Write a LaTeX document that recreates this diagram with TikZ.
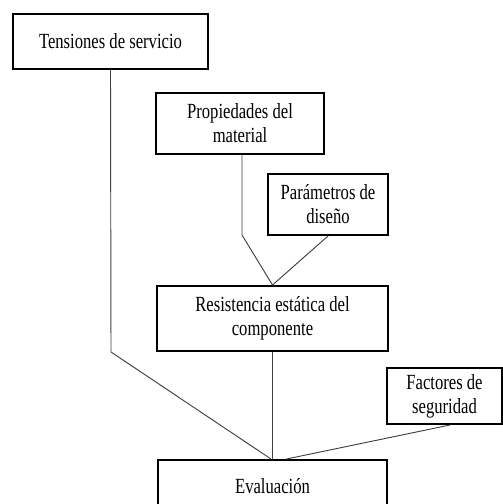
\documentclass[tikz,border=0pt]{standalone}
\usepackage{fontspec}
\setmainfont{Liberation Serif}[FakeStretch=0.77]
\usetikzlibrary{calc}
\tikzset{
  caja/.style={draw,line width=1.5pt,inner sep=0pt,align=center,
    font=\fontsize{16.2}{18}\selectfont},
  enlace/.style={draw=black!75,line width=0.7pt}
}
\begin{document}
\begin{tikzpicture}[x=0.75pt,y=-0.75pt]
    \clip (0,0) rectangle (503,504);
    \fill[white] (0,0) rectangle (503,504);
    % cajas
    \node[caja,minimum width=146.25pt,minimum height=41.25pt] (tens) at (110.5,41.5) {Tensiones de servicio};
    \node[caja,minimum width=126pt,minimum height=45.75pt] (prop) at (240,123.5) {Propiedades del\\material};
    \node[caja,minimum width=90pt,minimum height=45.75pt] (param) at (328,204.5) {Parámetros de\\diseño};
    \node[caja,minimum width=173.25pt,minimum height=48.75pt] (resis) at (272.5,318.5) {Resistencia estática del\\componente};
    \node[caja,minimum width=86.25pt,minimum height=42pt] (fact) at (444.5,396) {Factores de\\seguridad};
    \node[caja,minimum width=171.75pt,minimum height=39pt] (eval) at (272.5,486) {Evaluación};
    % enlaces
    \coordinate (codoT) at (111,352);
    \coordinate (codoP) at (242,235);
    \draw[enlace] (tens.south) -- (codoT) -- ($(eval.north)+(-1.5,0)$);
    \draw[enlace] ($(prop.south)+(2,0)$) -- (codoP) -- (resis.north);
    \draw[enlace] (param.south) -- (resis.north);
    \draw[enlace] (resis.south) -- (eval.north);
    \draw[enlace] ($(fact.south)+(5.5,0)$) -- ($(eval.north)+(14,0)$);
\end{tikzpicture}
\end{document}
